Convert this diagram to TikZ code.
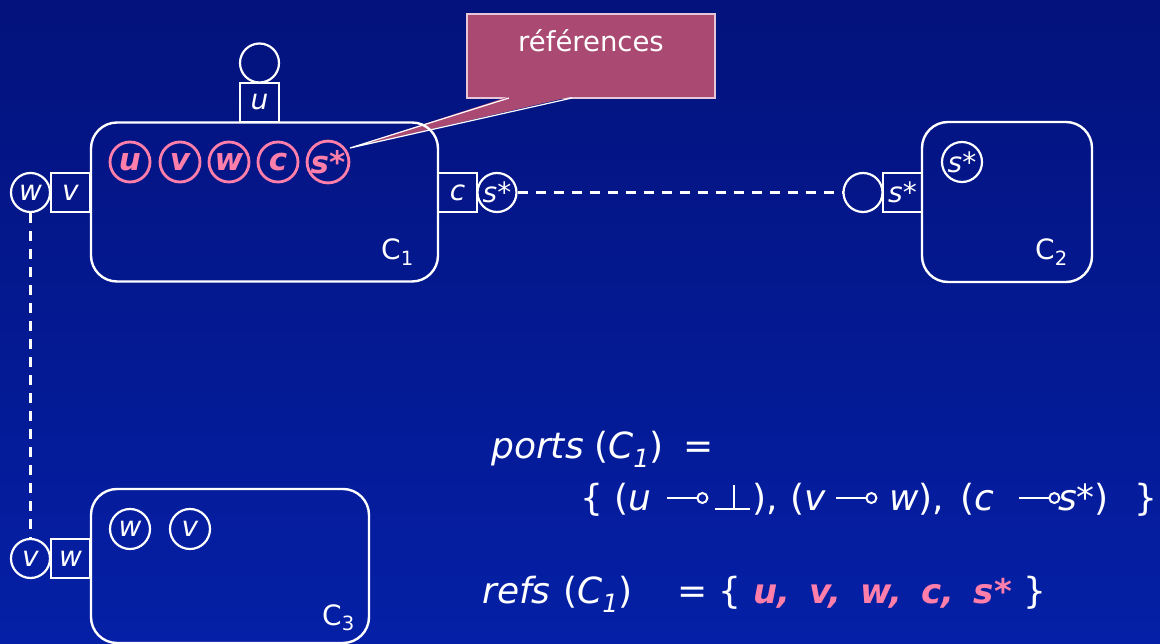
\documentclass[tikz,border=0pt]{standalone}
\usepackage{fontspec}
\setmainfont{DejaVu Sans}
\usetikzlibrary{calc}
\definecolor{bgtop}{HTML}{03127C}
\definecolor{bgbot}{HTML}{0520A6}
\definecolor{pinkc}{HTML}{FF7FAA}
\definecolor{callfill}{HTML}{AA4A73}
\definecolor{callborder}{HTML}{E6C6D6}
\newcommand\lolli{\tikz[baseline=0pt,x=1pt,y=1pt]{\draw[white,line width=2.4pt] (0,12)--(30,12); \draw[white,line width=2pt] (35,12) circle (5);}}
\newcommand\botsym{\tikz[baseline=0pt,x=1pt,y=1pt]{\draw[white,line width=2.2pt] (0,1)--(35,1); \draw[white,line width=2.2pt] (19,1)--(19,25);}}
\newcommand\seg[2]{\makebox[#1pt][l]{#2}}
\tikzset{
  comp/.style={draw=white, line width=2.4pt, rounded corners=26pt, inner sep=0pt},
  portbox/.style={draw=white, line width=2.2pt, minimum size=39pt, inner sep=0pt, text=white, font=\fontsize{28}{28}\selectfont\itshape},
  portcirc/.style={circle, draw=white, line width=2.2pt, minimum size=39pt, inner sep=0pt, text=white, font=\fontsize{28}{28}\selectfont\itshape},
  refc/.style={circle, draw=pinkc, line width=2.8pt, minimum size=40pt, inner sep=0pt, text=pinkc, font=\fontsize{31}{31}\selectfont\bfseries\itshape},
  innerc/.style={circle, draw=white, line width=2.2pt, minimum size=40pt, inner sep=0pt, text=white, font=\fontsize{28}{28}\selectfont\itshape},
  clabel/.style={anchor=base west, inner sep=0pt, text=white, font=\fontsize{28}{28}\selectfont},
  link/.style={draw=white, line width=2.4pt, dash pattern=on 10pt off 8pt},
  formula/.style={anchor=base west, inner sep=0pt, text=white, font=\fontsize{36}{36}\selectfont},
}
\begin{document}
\begin{tikzpicture}[x=1pt,y=-1pt]
\shade[top color=bgtop, bottom color=bgbot] (0,0) rectangle (1160,644);
\useasboundingbox (0,0) rectangle (1160,644);

% callout
\node[draw=callborder, fill=callfill, line width=1.4pt, minimum width=248pt, minimum height=84pt, inner sep=0pt] (ref) at (591,56) {};
\fill[callfill] (509,96.5) -- (350,148) -- (572,96.5) -- cycle;
\draw[white, line width=1.2pt] (509,98) -- (350,148) -- (572,98);
\node[anchor=base, inner sep=0pt, text=white, font=\fontsize{27.5}{27.5}\selectfont] (reftxt) at (591,52) {références};

% C1
\node[comp, minimum width=347pt, minimum height=159pt] (C1) at (264.5,202) {};
\node[clabel] (C1l) at (381,260) {C\textsubscript{1}};
\node[portbox] (pu) at (259.5,102.5) {u};
\node[portcirc] (cu) at (259.5,63) {};
\node[portbox] (pv) at (70.5,192.5) {v};
\node[portcirc] (cw) at (30.5,192.5) {w};
\node[portbox] (pc) at (457.5,192.5) {c};
\node[portcirc] (cs) at (497,192.5) {s*};
\node[refc] (ru) at (130,162) {u};
\node[refc] (rv) at (180,162) {v};
\node[refc] (rw) at (229,162) {w};
\node[refc] (rc) at (278,162) {c};
\node[refc] (rs) at (328,162) {s*};

% C2
\node[comp, minimum width=170pt, minimum height=160pt] (C2) at (1007,202) {};
\node[clabel] (C2l) at (1035,260) {C\textsubscript{2}};
\node[portbox] (ps) at (902.5,192.5) {s*};
\node[portcirc] (c2c) at (863,192.5) {};
\node[innerc] (is) at (962,162) {s*};

% C3
\node[comp, minimum width=278pt, minimum height=154pt] (C3) at (230,566) {};
\node[clabel] (C3l) at (322,625) {C\textsubscript{3}};
\node[portbox] (pw) at (70.5,558.5) {w};
\node[portcirc] (cv) at (30.5,558.5) {v};
\node[innerc] (iw) at (130,529) {w};
\node[innerc] (iv) at (190,529) {v};

% links
\draw[link] (cs.east) -- (c2c.west);
\draw[link] (cw.south) -- (cv.north);

% formulas
\node[formula] (ports) at (491,458) {\seg{103}{\itshape ports}\seg{89}{(\textit{C}\textsubscript{\textit{1}})}=};
\node[formula] (portsl) at (580,510) {\seg{34}{\{}\seg{52}{(\textit{u}}\seg{48}{\lolli}\seg{38}{\botsym}\seg{38}{),}\seg{45}{(\textit{v}}\seg{54}{\lolli}\seg{71}{\textit{w}),}\seg{58}{(\textit{c}}\seg{40}{\lolli}\seg{76}{\textit{s*})}\}};
\node[formula] (refs) at (482,603) {\seg{81}{\itshape refs}\seg{114}{(\textit{C}\textsubscript{\textit{1}})}\seg{41}{=}\seg{35}{\{}{\color{pinkc}\fontsize{34}{34}\selectfont\bfseries\itshape u,\hspace{19pt}v,\hspace{19pt}w,\hspace{19pt}c,\hspace{19pt}s*}\hspace{12pt}\}};
\end{tikzpicture}
\end{document}
